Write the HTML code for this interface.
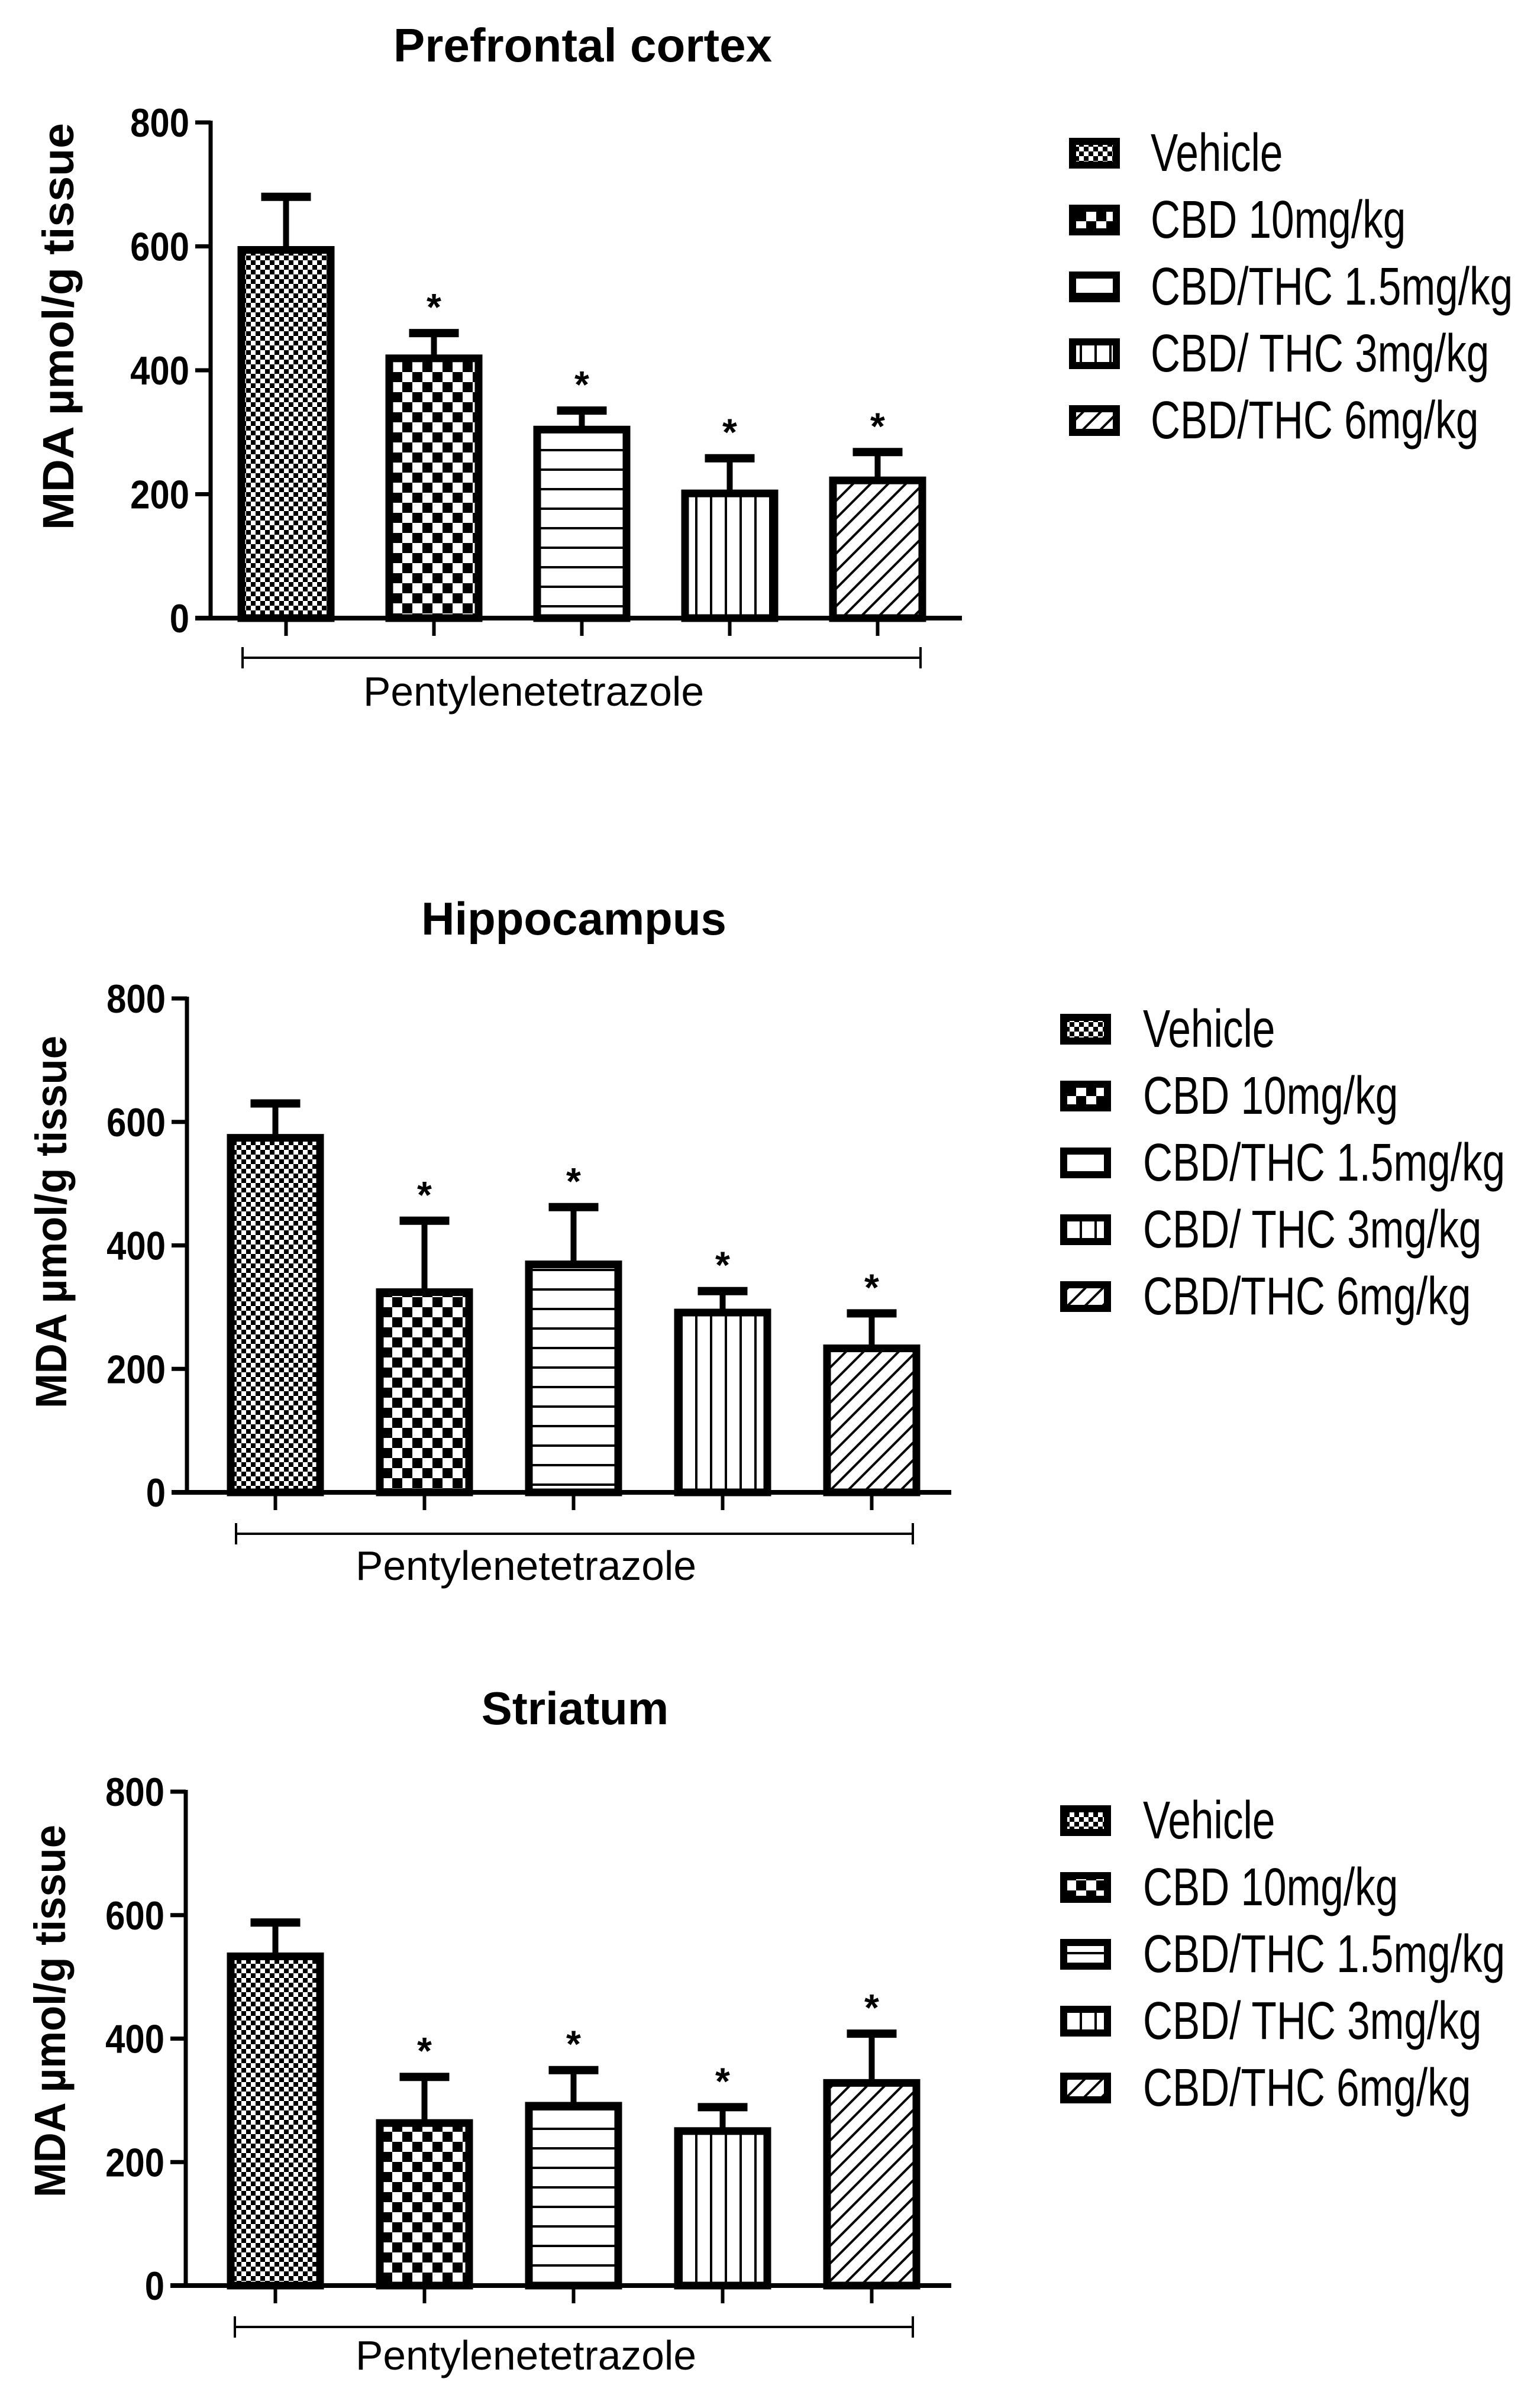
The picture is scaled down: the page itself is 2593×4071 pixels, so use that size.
<!DOCTYPE html>
<html><head><meta charset="utf-8"><style>
html,body{margin:0;padding:0;background:#fff;}
svg{display:block;}
text{font-family:"Liberation Sans",Arial,sans-serif;fill:#000;}
</style></head>
<body>
<svg id="fig" width="2593" height="4071" viewBox="0 0 2593 4071" xmlns="http://www.w3.org/2000/svg">
<defs>
  <pattern id="p0" patternUnits="userSpaceOnUse" width="16" height="16"><rect width="16" height="16" fill="#fff"/><rect width="8" height="8" fill="#000"/><rect x="8" y="8" width="8" height="8" fill="#000"/></pattern>
  <pattern id="p1" patternUnits="userSpaceOnUse" width="34" height="34"><rect width="34" height="34" fill="#fff"/><rect width="17" height="17" fill="#000"/><rect x="17" y="17" width="17" height="17" fill="#000"/></pattern>
  <pattern id="p2" patternUnits="userSpaceOnUse" width="33" height="33"><rect width="33" height="33" fill="#fff"/><rect y="0" width="33" height="4" fill="#000"/></pattern>
  <pattern id="p3" patternUnits="userSpaceOnUse" width="25" height="25"><rect width="25" height="25" fill="#fff"/><rect x="0" width="4" height="25" fill="#000"/></pattern>
  <pattern id="p4" patternUnits="userSpaceOnUse" width="21" height="21" patternTransform="rotate(45)"><rect width="21" height="21" fill="#fff"/><rect x="0" width="4" height="21" fill="#000"/></pattern>
</defs>
</svg>
<script>
// ---- data ----
const groups = ["Vehicle", "CBD 10mg/kg", "CBD/THC 1.5mg/kg", "CBD/ THC 3mg/kg", "CBD/THC 6mg/kg"];
const yTicks = [0, 200, 400, 600, 800];
const titles = ["Prefrontal cortex", "Hippocampus", "Striatum"];
const pfcMeans = [600, 425, 310, 207, 228];
const pfcErr = [680, 460, 335, 258, 268];
const hipMeans = [580, 330, 375, 297, 239];
const hipErr = [630, 440, 462, 326, 290];
const strMeans = [539, 269, 297, 256, 334];
const strErr = [588, 338, 349, 289, 408];
const signif = [false, true, true, true, true];

const NS = "http://www.w3.org/2000/svg";
const svg = document.getElementById("fig");
function mk(tag, attrs, parent) {
  const e = document.createElementNS(NS, tag);
  for (const k in attrs) e.setAttribute(k, attrs[k]);
  (parent || svg).appendChild(e);
  return e;
}
const layouts = [
  {ax:356, y0:1045, y800:207, xEnd:1626, barL:402, step:250, bw:163, brY:1112, brL:410, brR:1556, lblX:902, lblY:1193, tX:985, tY:104, tF:80, ytX:124, ytY:552, ytL:688, legX:1807, legTX:1945, legY:259, legStep:113},
  {ax:316, y0:2523, y800:1688, xEnd:1608, barL:384, step:252, bw:163, brY:2593, brL:399, brR:1543, lblX:889, lblY:2671, tX:970, tY:1580, tF:78, ytX:112, ytY:2066, ytL:630, legX:1792, legTX:1932, legY:1740, legStep:113},
  {ax:314, y0:3864, y800:3029, xEnd:1608, barL:384, step:252, bw:163, brY:3934, brL:397, brR:1543, lblX:889, lblY:4006, tX:972, tY:2915, tF:78, ytX:110, ytY:3400, ytL:630, legX:1792, legTX:1932, legY:3078, legStep:113}
];
const means = [pfcMeans, hipMeans, strMeans];
const errs = [pfcErr, hipErr, strErr];
const keys = ["pfc", "hip", "str"];

layouts.forEach((L, ci) => {
  const g = mk("g", {});
  
  
  const yS = v => L.y0 - (v / 800) * (L.y0 - L.y800);
  const xS = i => L.barL + i * L.step;

  const t = mk("text", {x:L.tX, y:L.tY, "text-anchor":"middle", "font-size":L.tF, "font-weight":"bold"}, g);
  t.textContent = titles[ci];
  
  

  const yt = mk("text", {x:0, y:0, "text-anchor":"middle", "font-size":74, "font-weight":"bold", transform:`translate(${L.ytX},${L.ytY}) rotate(-90)`, textLength:L.ytL, lengthAdjust:"spacingAndGlyphs"}, g);
  yt.textContent = "MDA µmol/g tissue";
  
  

  means[ci].forEach((v, i) => {
    const x = xS(i), top = yS(errs[ci][i]), yv = yS(v), cx = x + L.bw / 2;
    const eb = mk("line", {x1:cx, x2:cx, y1:top, y2:yv, stroke:"#000", "stroke-width":10}, g);
    
    
    const cap = mk("line", {x1:cx-42, x2:cx+42, y1:top, y2:top, stroke:"#000", "stroke-width":14}, g);
    
    
    const r = mk("rect", {x:x+6, y:yv+6, width:L.bw-12, height:L.y0-yv-6, fill:`url(#p${i})`, stroke:"#000", "stroke-width":13}, g);
    
    
    const tk = mk("line", {x1:cx, x2:cx, y1:L.y0, y2:L.y0+30, stroke:"#000", "stroke-width":6}, g);
    
    
    if (signif[i]) {
      const s = mk("text", {x:cx, y:top-22, "text-anchor":"middle", "font-size":64, "font-weight":"bold"}, g);
      s.textContent = "*";
      
      
    }
  });

  const ya = mk("line", {x1:L.ax, x2:L.ax, y1:L.y800-3, y2:L.y0+3, stroke:"#000", "stroke-width":7}, g);
  
  
  const xa = mk("line", {x1:L.ax-26, x2:L.xEnd, y1:L.y0, y2:L.y0, stroke:"#000", "stroke-width":8}, g);
  
  
  yTicks.forEach(v => {
    const tl = mk("line", {x1:L.ax-26, x2:L.ax, y1:yS(v), y2:yS(v), stroke:"#000", "stroke-width":7}, g);
    
    
    const lb = mk("text", {x:0, y:0, "text-anchor":"end", "font-size":68, "font-weight":"bold", transform:`translate(${L.ax-36},${yS(v)+24}) scale(0.88,1)`}, g);
    lb.textContent = String(v);
    
    
  });

  const br = mk("path", {d:`M${L.brL},${L.brY-18}V${L.brY+18}M${L.brL},${L.brY}H${L.brR}M${L.brR},${L.brY-18}V${L.brY+18}`, stroke:"#000", "stroke-width":4, fill:"none"}, g);
  
  
  const gl = mk("text", {x:L.lblX, y:L.lblY, "text-anchor":"middle", "font-size":70, textLength:576, lengthAdjust:"spacingAndGlyphs"}, g);
  gl.textContent = "Pentylenetetrazole";
  
  

  groups.forEach((name, i) => {
    const cy = L.legY + i * L.legStep;
    const bx = mk("rect", {x:L.legX, y:cy-26, width:86, height:52, fill:"#000"}, g);
    
    
    const inner = mk("rect", {x:L.legX+12, y:cy-14, width:62, height:28, fill:`url(#p${i})`}, g);
    
    
    const lt = mk("text", {x:0, y:0, "font-size":90, transform:`translate(${L.legTX},${cy+30}) scale(0.77,1)`}, g);
    lt.textContent = name;
    
    
  });
});
</script>
</body></html>
